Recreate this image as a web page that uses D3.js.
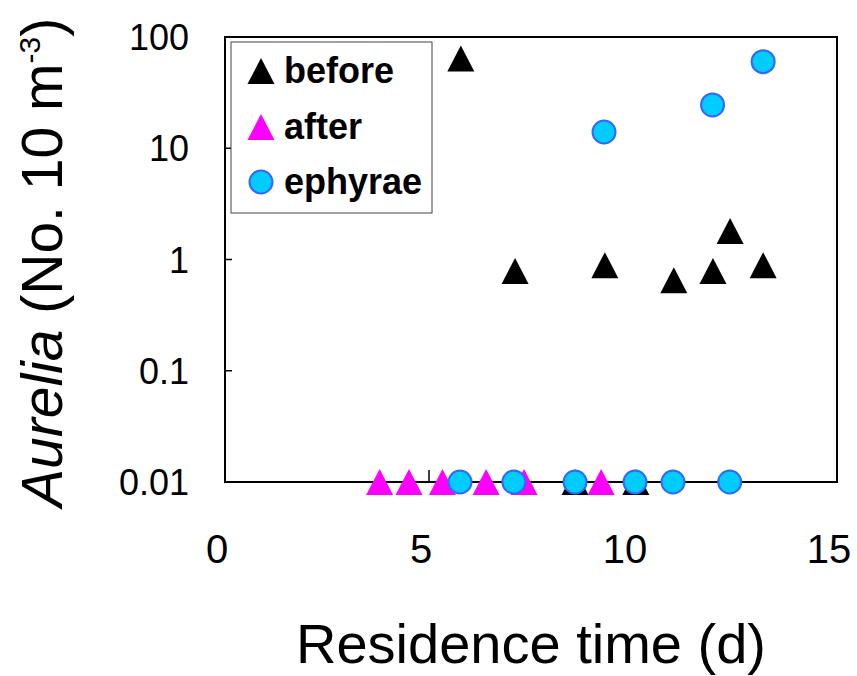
<!DOCTYPE html>
<html>
<head>
<meta charset="utf-8">
<script src="https://cdn.jsdelivr.net/npm/d3@7"></script>
<style>
  body { margin: 0; background: #fff; }
  text { font-family: "Liberation Sans", Arial, sans-serif; fill: #000; }
</style>
</head>
<body>
<svg></svg>
<script>
// residence time (d) and Aurelia density (No. 10 m-3); zeros are plotted at 0.01
var beforeX = [5.78, 7.11, 9.31, 11.0, 11.96, 12.38, 13.19, 8.58, 10.07];
var beforeY = [64, 0.79, 0.89, 0.65, 0.79, 1.8, 0.89, 0.01, 0.01];
var afterX = [3.79, 4.51, 5.33, 6.40, 7.33, 9.22];
var afterY = [0.01, 0.01, 0.01, 0.01, 0.01, 0.01];
var ephyraeX = [9.29, 11.95, 13.19, 5.76, 7.08, 8.58, 10.05, 10.98, 12.37];
var ephyraeY = [14, 24.5, 60, 0.01, 0.01, 0.01, 0.01, 0.01, 0.01];

var xTicks = [0, 5, 10, 15];
var yTicks = [100, 10, 1, 0.1, 0.01];
var yTickLabels = ["100", "10", "1", "0.1", "0.01"];
var seriesNames = ["before", "after", "ephyrae"];

var svgWidth = 857, svgHeight = 676;
var plotL = 225, plotR = 837, plotT = 37, plotB = 482;

var svg = d3.select("svg")
    .attr("width", svgWidth)
    .attr("height", svgHeight);

var x = d3.scaleLinear().domain([0, 15]).range([plotL, plotR]);
var y = d3.scaleLog().domain([0.01, 100]).range([plotB, plotT]);

var toPoints = (xs, ys) => xs.map((v, i) => ({x: v, y: ys[i]}));

// triangle centred on its bounding box, like the spreadsheet marker
var tri = (cx, cy) => {
  var w = 13.5, h = 13;
  return "M" + cx + "," + (cy - h) + "L" + (cx + w) + "," + (cy + h) + "L" + (cx - w) + "," + (cy + h) + "Z";
};

// frame
svg.append("rect")
    .attr("x", plotL).attr("y", plotT)
    .attr("width", plotR - plotL).attr("height", plotB - plotT)
    .attr("fill", "none").attr("stroke", "#000").attr("stroke-width", 2);

// inner ticks
svg.selectAll(".ytick")
    .data(yTicks.slice(1, -1))
    .enter().append("line")
    .attr("x1", plotL).attr("x2", plotL + 7)
    .attr("y1", d => y(d)).attr("y2", d => y(d))
    .attr("stroke", "#000").attr("stroke-width", 1.5);

svg.selectAll(".xtick")
    .data(xTicks.slice(1, -1))
    .enter().append("line")
    .attr("x1", d => x(d)).attr("x2", d => x(d))
    .attr("y1", plotB).attr("y2", plotB - 12)
    .attr("stroke", "#000").attr("stroke-width", 1.5);

// tick labels
svg.selectAll(".ylab")
    .data(yTicks)
    .enter().append("text")
    .attr("x", 189)
    .attr("y", d => y(d) + 13)
    .attr("text-anchor", "end")
    .style("font-size", "36px")
    .text((d, i) => yTickLabels[i]);

svg.selectAll(".xlab")
    .data(xTicks)
    .enter().append("text")
    .attr("x", d => x(d) - 8)
    .attr("y", 563)
    .attr("text-anchor", "middle")
    .style("font-size", "40px")
    .text(d => d);

// axis titles
svg.append("text")
    .attr("x", 531).attr("y", 663)
    .attr("text-anchor", "middle")
    .style("font-size", "56px")
    .text("Residence time (d)");

var yt = svg.append("text")
    .attr("transform", "translate(62,507) rotate(-90)")
    .style("font-size", "57px");
yt.append("tspan").style("font-style", "italic").text("Aurelia");
yt.append("tspan").text(" (No. 10 m");
yt.append("tspan").attr("dy", -22).style("font-size", "30px").text("-3");
yt.append("tspan").attr("dy", 22).text(")");

// series
svg.selectAll(".before")
    .data(toPoints(beforeX, beforeY))
    .enter().append("path")
    .attr("d", d => tri(x(d.x), y(d.y)))
    .attr("fill", "#000");

svg.selectAll(".after")
    .data(toPoints(afterX, afterY))
    .enter().append("path")
    .attr("d", d => tri(x(d.x), y(d.y)))
    .attr("fill", "#ff00ff");

svg.selectAll(".eph")
    .data(toPoints(ephyraeX, ephyraeY))
    .enter().append("circle")
    .attr("cx", d => x(d.x)).attr("cy", d => y(d.y))
    .attr("r", 11.5)
    .attr("fill", "#00ccff")
    .attr("stroke", "#3366ff").attr("stroke-width", 2);

// legend
var lg = svg.append("g");
lg.append("rect")
    .attr("x", 231).attr("y", 42)
    .attr("width", 201).attr("height", 171)
    .attr("fill", "#fff").attr("stroke", "#444").attr("stroke-width", 1);

var rowY = [71, 127, 182];
lg.append("path").attr("d", tri(261, rowY[0])).attr("fill", "#000");
lg.append("path").attr("d", tri(261, rowY[1])).attr("fill", "#ff00ff");
lg.append("circle").attr("cx", 261).attr("cy", rowY[2]).attr("r", 11.5)
    .attr("fill", "#00ccff").attr("stroke", "#3366ff").attr("stroke-width", 2);

lg.selectAll(".ltxt")
    .data(seriesNames)
    .enter().append("text")
    .attr("x", 284)
    .attr("y", (d, i) => rowY[i] + 12)
    .style("font-size", "36px")
    .style("font-weight", "bold")
    .text(d => d);
</script>
</body>
</html>
